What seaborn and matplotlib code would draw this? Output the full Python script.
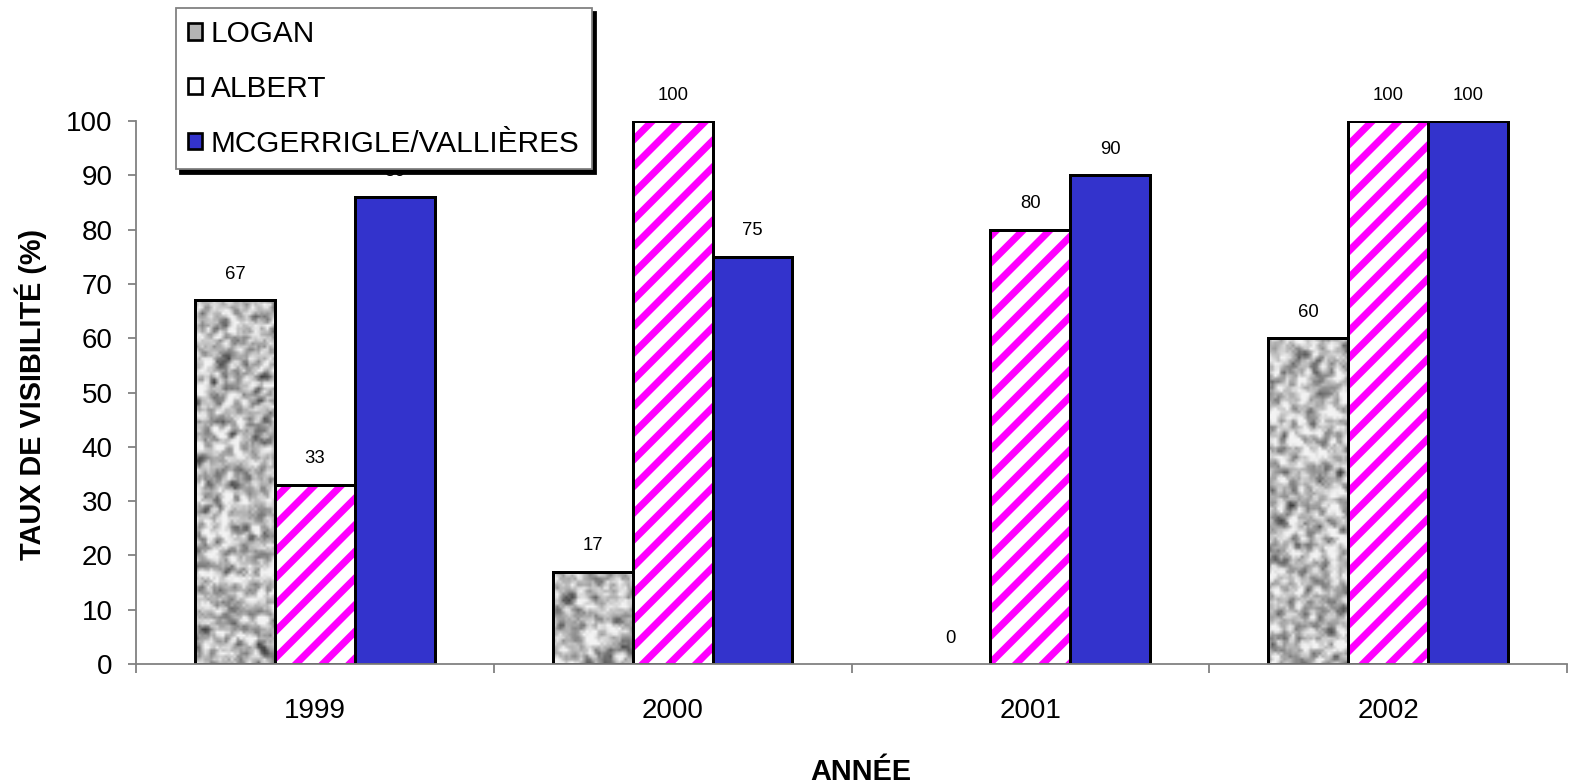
import numpy as np
import pandas as pd
import matplotlib
matplotlib.use("Agg")
import matplotlib.pyplot as plt
from matplotlib.patches import Patch, Rectangle
import seaborn as sns

# ---- data ----
years = ["1999", "2000", "2001", "2002"]
sites = ["LOGAN", "ALBERT", "MCGERRIGLE/VALLIÈRES"]
logan = [67, 17, 0, 60]
albert = [33, 100, 80, 100]
mcgerrigle = [86, 75, 90, 100]
yticks = list(range(0, 101, 10))

df = pd.DataFrame({
    "year": years * 3,
    "site": [sites[0]] * 4 + [sites[1]] * 4 + [sites[2]] * 4,
    "value": logan + albert + mcgerrigle,
})

sns.set_style("white")
plt.rcParams["font.family"] = ["Liberation Sans", "DejaVu Sans"]
plt.rcParams["hatch.linewidth"] = 3.2
plt.rcParams["text.color"] = "black"
plt.rcParams["axes.labelcolor"] = "black"
plt.rcParams["xtick.color"] = "black"
plt.rcParams["ytick.color"] = "black"

DPI = 160
fig = plt.figure(figsize=(1575 / DPI, 784 / DPI), dpi=DPI)
ax = fig.add_axes([0.08635, 0.15306, 0.90857, 0.6926])

BLUE = "#3333CC"
MAGENTA = "#FF00FF"
EDGE_LW = 1.35

sns.barplot(data=df, x="year", y="value", hue="site", hue_order=sites,
            palette=["#B4B4B4", "white", BLUE], saturation=1, width=0.67,
            edgecolor="black", linewidth=EDGE_LW, legend=False, ax=ax)

ax.set_xlim(-0.5, 3.5)
ax.set_ylim(0, 100)

# textures / hatches
rng = np.random.default_rng(11)
cont_logan, cont_albert, cont_mcg = ax.containers[0], ax.containers[1], ax.containers[2]
for bar in cont_logan:
    h = bar.get_height()
    x0, w = bar.get_x(), bar.get_width()
    if h <= 0:
        bar.set_linewidth(0)
        bar.set_facecolor("none")
        continue
    ny = max(3, int(h * 5.43 / 3))
    nx = 27
    z = rng.normal(0, 1, (ny + 2, nx + 2))
    zs = (z[:-2, :-2] + z[1:-1, :-2] + z[2:, :-2] + z[:-2, 1:-1] + z[1:-1, 1:-1] * 2
          + z[2:, 1:-1] + z[:-2, 2:] + z[1:-1, 2:] + z[2:, 2:]) / 10
    zs = zs / zs.std()
    arr = np.clip(0.72 + 0.15 * zs, 0.25, 0.95)
    im = ax.imshow(arr, extent=[x0, x0 + w, 0, h], aspect="auto", cmap="gray",
                   vmin=0, vmax=1, interpolation="bilinear", zorder=bar.get_zorder() + 0.1)
    im.set_clip_path(bar)
    ax.add_patch(Rectangle((x0, 0), w, h, fill=False, ec="black", lw=EDGE_LW,
                           zorder=bar.get_zorder() + 0.2))

for bar in cont_albert:
    h = bar.get_height()
    x0, w = bar.get_x(), bar.get_width()
    bar.set_facecolor("white")
    bar.set_edgecolor(MAGENTA)
    bar.set_hatch("//")
    bar.set_linewidth(0)
    ax.add_patch(Rectangle((x0, 0), w, h, fill=False, ec="black", lw=EDGE_LW,
                           zorder=bar.get_zorder() + 0.2))

# value labels
for cont, vals in zip([cont_logan, cont_albert, cont_mcg], [logan, albert, mcgerrigle]):
    ax.bar_label(cont, labels=[str(v) for v in vals], padding=7.8, fontsize=8.3,
                 color="black")

ax.autoscale(False)
ax.set_xlim(-0.5, 3.5)
ax.set_ylim(0, 100)

# axes styling
GRAY = "#808080"
for s in ["top", "right"]:
    ax.spines[s].set_visible(False)
for s in ["left", "bottom"]:
    ax.spines[s].set_color(GRAY)
    ax.spines[s].set_linewidth(0.8)

ax.set_yticks(yticks)
ax.set_yticklabels([str(t) for t in yticks])
ax.tick_params(axis="y", direction="out", length=3.6, width=0.8, color=GRAY,
               labelcolor="black", labelsize=12.5, pad=7, left=True)
ax.set_xticks(range(len(years)))
ax.set_xticklabels(years)
ax.set_xticks([-0.5, 0.5, 1.5, 2.5, 3.5], minor=True)
ax.tick_params(axis="x", which="major", length=0, labelsize=12.5, pad=15.5,
               labelcolor="black")
ax.tick_params(axis="x", which="minor", direction="out", length=4, width=0.8,
               color=GRAY, bottom=True)

ax.set_ylabel("TAUX DE VISIBILITÉ (%)", fontsize=13, fontweight="bold", color="black")
ax.yaxis.label.set_verticalalignment("center")
ax.yaxis.set_label_coords(-0.0734, 0.497)
ax.set_xlabel("ANNÉE", fontsize=13, fontweight="bold", color="black")
ax.xaxis.label.set_verticalalignment("center")
ax.xaxis.set_label_coords(0.5066, -0.199)

# legend
handles = [
    Patch(facecolor="#B4B4B4", edgecolor="black", lw=1.2),
    Patch(facecolor="white", edgecolor="black", lw=1.2),
    Patch(facecolor=BLUE, edgecolor="black", lw=1.2),
]
leg = ax.legend(handles, sites, loc="upper left",
                bbox_to_anchor=(176 / 1575, 1 - 8 / 784), bbox_transform=fig.transFigure,
                fontsize=13.4, frameon=True, fancybox=False,
                shadow={"color": "black", "alpha": 1}, edgecolor=GRAY, framealpha=1,
                borderaxespad=0, borderpad=0.4, labelspacing=0.9,
                handlelength=0.47, handleheight=0.47, handletextpad=0.3)
leg.get_frame().set_linewidth(0.8)
leg.set_zorder(10)

fig.savefig("out.png", dpi=DPI)
